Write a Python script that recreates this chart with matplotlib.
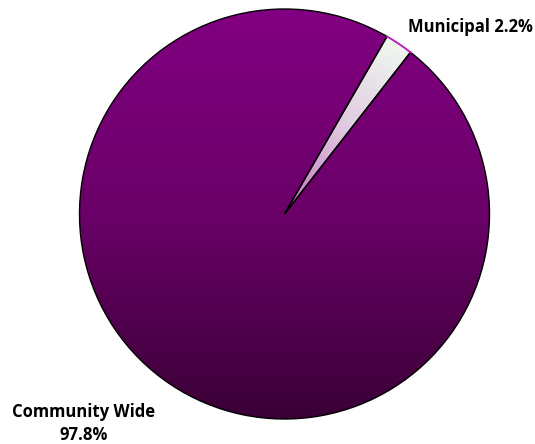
import numpy as np
import matplotlib.pyplot as plt
from matplotlib.colors import LinearSegmentedColormap

labels = ["Community Wide", "Municipal"]
shares = [97.8, 2.2]

W, H = 535, 444
cx, cy, r = 284.5, 230, 205

fig = plt.figure(figsize=(W / 100, H / 100), dpi=100)
ax = fig.add_axes([0, 0, 1, 1])

wedges, _ = ax.pie(shares, startangle=60, counterclock=True, center=(cx, cy),
                   radius=r, frame=True,
                   wedgeprops=dict(facecolor="none", edgecolor="black", linewidth=1.0))
ax.set_xlim(0, W)
ax.set_ylim(0, H)
ax.set_aspect("equal")
ax.axis("off")

# vertical purple shading for the big slice
main_cmap = LinearSegmentedColormap.from_list("main", ["#3a0036", "#6a0068", "#820082"])
grad = np.linspace(0, 1, 256).reshape(-1, 1)
im = ax.imshow(grad, cmap=main_cmap, origin="lower", aspect="auto",
               extent=(cx - r, cx + r, cy - r, cy + r), zorder=0)
im.set_clip_path(wedges[0])

# radial light shading for the small slice
yy, xx = np.mgrid[cy - r:cy + r:400j, cx - r:cx + r:400j]
dist = np.hypot(xx - cx, yy - cy) / r
small_cmap = LinearSegmentedColormap.from_list("small", ["#c070c0", "#e0c8e0", "#f0f8f0"])
im2 = ax.imshow(dist, cmap=small_cmap, vmin=0, vmax=1, origin="lower",
                extent=(cx - r, cx + r, cy - r, cy + r), zorder=0)
im2.set_clip_path(wedges[1])

# magenta rim on the small slice
t = np.radians(np.linspace(52.1, 59.9, 30))
ax.plot(cx + r * np.cos(t), cy + r * np.sin(t), color="#d020d0", lw=1.2, zorder=3)

font = dict(fontsize=12, fontweight="bold", family="Open Sans", ha="center", va="baseline")
ax.text(470, H - 32, f"{labels[1]} {shares[1]}%", **font)
ax.text(83.5, H - 417, labels[0], **font)
ax.text(83.5, H - 440, f"{shares[0]}%", **font)

fig.savefig("out.png", dpi=100)
